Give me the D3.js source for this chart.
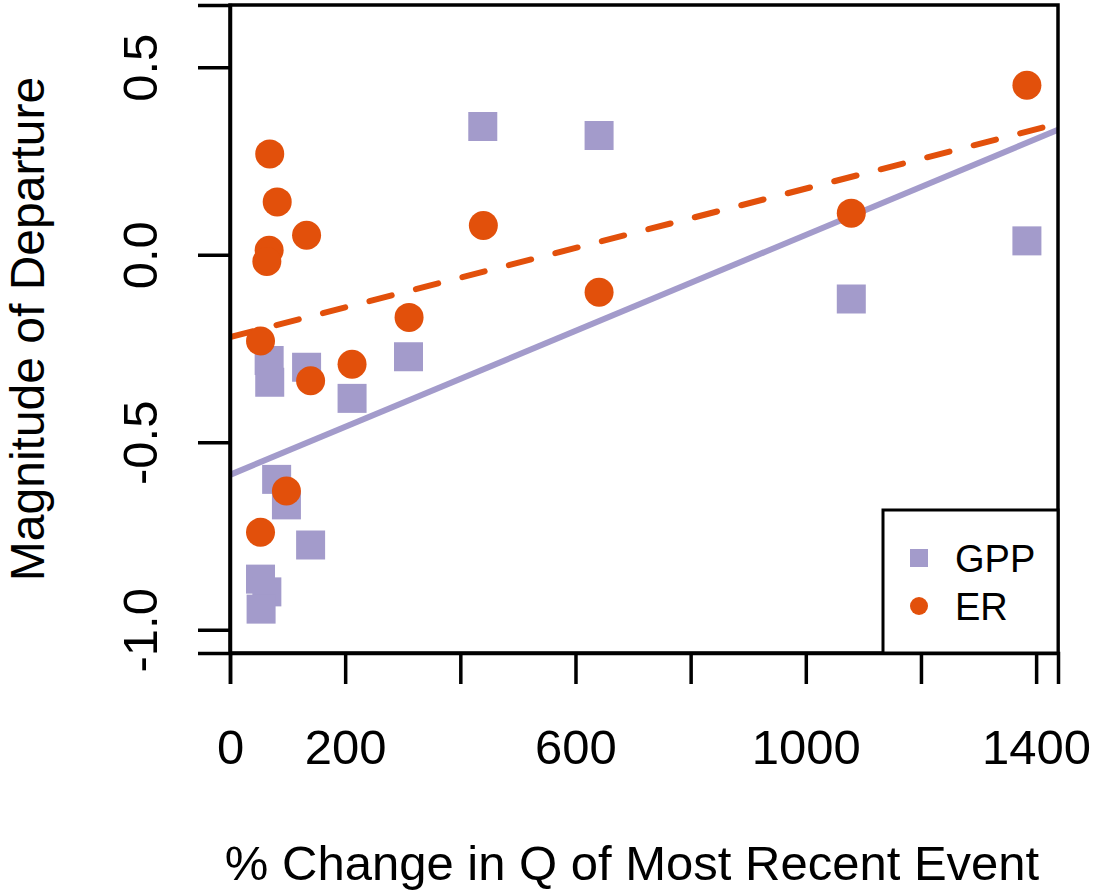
<!DOCTYPE html>
<html>
<head>
<meta charset="utf-8">
<script src="https://cdn.jsdelivr.net/npm/d3@7"></script>
<style>
  body { margin: 0; background: #fff; }
  text { font-family: 'Liberation Sans', Arial, Helvetica, sans-serif; fill: #000; }
</style>
</head>
<body>
<div id="chart"></div>
<script>
// data
const gppX = [439, 641, 1384, 1079, 310, 212, 133, 68, 69, 81, 98, 140, 53, 64, 54]
const gppY = [0.342, 0.318, 0.037, -0.118, -0.272, -0.383, -0.300, -0.282, -0.340, -0.599, -0.667, -0.774, -0.865, -0.899, -0.945]
const erX = [1384, 1079, 440, 641, 311, 212, 140, 133, 82, 69, 68, 64, 53, 98, 53]
const erY = [0.452, 0.111, 0.078, -0.100, -0.167, -0.292, -0.336, 0.052, 0.141, 0.269, 0.012, -0.018, -0.230, -0.630, -0.740]

// fitted lines (intercept, slope)
const gppFit = [-0.587, 0.00064]
const erFit = [-0.2196, 0.000396]

const xTicks = [0, 200, 400, 600, 800, 1000, 1200, 1400]
const xTickLabels = ['0', '200', '', '600', '', '1000', '', '1400']
const yTicks = [-1.0, -0.5, 0.0, 0.5]
const seriesNames = ['GPP', 'ER']

const gppColor = '#a39bcb'
const erColor = '#e2500b'

const W = 1096, H = 896
const plot = { left: 230, right: 1058, top: 5, bottom: 653 }

const svg = d3.select('#chart').append('svg')
  .attr('width', W)
  .attr('height', H)

svg.append('rect').attr('width', W).attr('height', H).attr('fill', '#fff')

const x = d3.scaleLinear()
  .domain([0, 1438])
  .range([plot.left, plot.right])

const y = d3.scaleLinear()
  .domain([-1.062, 0.666])
  .range([plot.bottom, plot.top])

svg.append('clipPath').attr('id', 'clip')
  .append('rect')
  .attr('x', plot.left).attr('y', plot.top)
  .attr('width', plot.right - plot.left).attr('height', plot.bottom - plot.top)

// regression lines
const fitLine = (fit) => d3.line()
  .x(d => x(d))
  .y(d => y(fit[0] + fit[1] * d))(x.domain())

svg.append('path')
  .attr('clip-path', 'url(#clip)')
  .attr('d', fitLine(gppFit))
  .attr('fill', 'none')
  .attr('stroke', gppColor)
  .attr('stroke-width', 6)

svg.append('path')
  .attr('clip-path', 'url(#clip)')
  .attr('d', fitLine(erFit))
  .attr('fill', 'none')
  .attr('stroke', erColor)
  .attr('stroke-width', 6)
  .attr('stroke-linecap', 'round')
  .attr('stroke-dasharray', '23,25')

// points: squares first, circles on top
const sq = 29
svg.append('g').selectAll('rect')
  .data(d3.zip(gppX, gppY))
  .join('rect')
  .attr('x', d => x(d[0]) - sq / 2)
  .attr('y', d => y(d[1]) - sq / 2)
  .attr('width', sq)
  .attr('height', sq)
  .attr('fill', gppColor)

svg.append('g').selectAll('circle')
  .data(d3.zip(erX, erY))
  .join('circle')
  .attr('cx', d => x(d[0]))
  .attr('cy', d => y(d[1]))
  .attr('r', 14.5)
  .attr('fill', erColor)

// box
svg.append('rect')
  .attr('x', plot.left).attr('y', plot.top)
  .attr('width', plot.right - plot.left).attr('height', plot.bottom - plot.top)
  .attr('fill', 'none')
  .attr('stroke', '#000')
  .attr('stroke-width', 3.5)

// x axis
const xAxis = svg.append('g')
  .attr('transform', 'translate(0,' + plot.bottom + ')')
  .call(d3.axisBottom(x).tickValues(xTicks).tickSize(31).tickFormat((d, i) => xTickLabels[i]))
xAxis.select('.domain').attr('stroke-width', 3.5)
xAxis.selectAll('.tick line').attr('stroke-width', 3.5)
xAxis.selectAll('.tick text')
  .attr('y', 111)
  .attr('dy', 0)
  .style('font-size', '49px')
  .style('font-family', "'Liberation Sans', Arial, sans-serif")

// y axis
const yAxis = svg.append('g')
  .attr('transform', 'translate(' + plot.left + ',0)')
  .call(d3.axisLeft(y).tickValues(yTicks).tickSize(32).tickFormat(d3.format('.1f')))
yAxis.select('.domain').attr('stroke-width', 3.5)
yAxis.selectAll('.tick line').attr('stroke-width', 3.5)
yAxis.selectAll('.tick text')
  .attr('x', null).attr('dy', null)
  .attr('text-anchor', 'middle')
  .attr('transform', 'translate(-73,0) rotate(-90)')
  .style('font-size', '49px')
  .style('font-family', "'Liberation Sans', Arial, sans-serif")
yAxis.selectAll('.tick text').text(d => d3.format('.1f')(d).replace('−', '-'))

// axis titles
svg.append('text')
  .attr('x', (plot.left + plot.right) / 2 - 12)
  .attr('y', 880)
  .attr('text-anchor', 'middle')
  .style('font-size', '49px')
  .text('% Change in Q of Most Recent Event')

svg.append('text')
  .attr('transform', 'translate(44,' + (plot.top + plot.bottom) / 2 + ') rotate(-90)')
  .attr('text-anchor', 'middle')
  .style('font-size', '48px')
  .text('Magnitude of Departure')

// legend
const legend = svg.append('g')
legend.append('rect')
  .attr('x', 883).attr('y', 510)
  .attr('width', plot.right - 883).attr('height', plot.bottom - 510)
  .attr('fill', '#fff')
  .attr('stroke', '#000')
  .attr('stroke-width', 3)

legend.append('rect')
  .attr('x', 910).attr('y', 549)
  .attr('width', 18).attr('height', 18)
  .attr('fill', gppColor)
legend.append('circle')
  .attr('cx', 919).attr('cy', 606)
  .attr('r', 9)
  .attr('fill', erColor)

legend.selectAll('text.lbl')
  .data(seriesNames)
  .join('text')
  .attr('class', 'lbl')
  .attr('x', 955)
  .attr('y', (d, i) => 572 + i * 48)
  .style('font-size', '38px')
  .text(d => d)
</script>
</body>
</html>
